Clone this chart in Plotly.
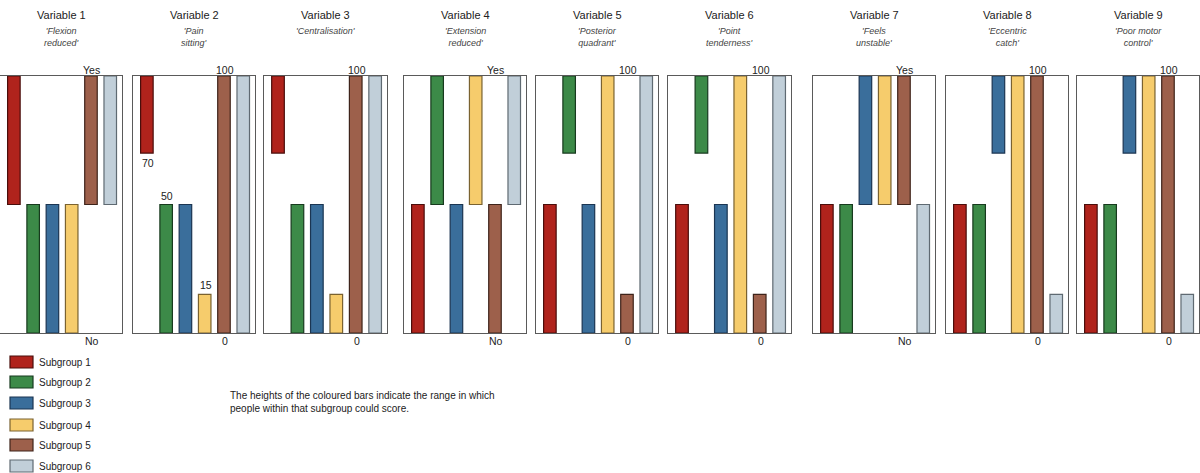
import plotly.graph_objects as go

W, H = 1200, 473

variables = ["Variable 1", "Variable 2", "Variable 3", "Variable 4", "Variable 5",
             "Variable 6", "Variable 7", "Variable 8", "Variable 9"]
descriptors = ["'Flexion<br>reduced'", "'Pain<br>sitting'", "'Centralisation'",
               "'Extension<br>reduced'", "'Posterior<br>quadrant'", "'Point<br>tenderness'",
               "'Feels<br>unstable'", "'Eccentric<br>catch'", "'Poor motor<br>control'"]
scale_type = ["binary", "continuous", "continuous", "binary", "continuous",
              "continuous", "binary", "continuous", "continuous"]
top_labels = {"binary": "Yes", "continuous": "100"}
bottom_labels = {"binary": "No", "continuous": "0"}

subgroups = ["Subgroup 1", "Subgroup 2", "Subgroup 3", "Subgroup 4", "Subgroup 5", "Subgroup 6"]
fill_colors = ["#B0231C", "#3C8A48", "#3A6E9B", "#F6CC6C", "#9D604B", "#C1CFD9"]
edge_colors = ["#4A0E0B", "#173A1E", "#1B3552", "#7A6230", "#3E231A", "#5F6A72"]

# Binary variables: which half each subgroup occupies
var1 = ["Yes", "No", "No", "No", "Yes", "Yes"]
var4 = ["No", "Yes", "No", "Yes", "No", "Yes"]
var7 = ["No", "No", "Yes", "Yes", "Yes", "No"]

# Continuous variables (0-100): range low/high per subgroup
var2_low = [70, 0, 0, 0, 0, 0]
var2_high = [100, 50, 50, 15, 100, 100]
var3_low = [70, 0, 0, 0, 0, 0]
var3_high = [100, 50, 50, 15, 100, 100]
var5_low = [0, 70, 0, 0, 0, 0]
var5_high = [50, 100, 50, 100, 15, 100]
var6_low = [0, 70, 0, 0, 0, 0]
var6_high = [50, 100, 50, 100, 15, 100]
var8_low = [0, 0, 70, 0, 0, 0]
var8_high = [50, 50, 100, 100, 100, 15]
var9_low = [0, 0, 70, 0, 0, 0]
var9_high = [50, 50, 100, 100, 100, 15]

# value labels shown in panel 2: (subgroup index, value, position)
panel2_labels = [(0, 70, "below"), (1, 50, "above"), (3, 15, "above")]

binary_map = {"Yes": (50, 100), "No": (0, 50)}


def ranges_binary(vals):
    return [binary_map[v][0] for v in vals], [binary_map[v][1] for v in vals]


ranges = [
    ranges_binary(var1),
    (var2_low, var2_high),
    (var3_low, var3_high),
    ranges_binary(var4),
    (var5_low, var5_high),
    (var6_low, var6_high),
    ranges_binary(var7),
    (var8_low, var8_high),
    (var9_low, var9_high),
]

# layout (pixels)
panel_edges = [(0, 122), (133, 255), (264, 387), (404, 526), (536, 658),
               (668, 791), (813, 935), (946, 1068), (1077, 1199)]
box_top, box_bottom = 76, 333


def py(y):
    return 1 - y / H


FONT = "Liberation Sans, Arial, sans-serif"
TXT = "#222222"
fig = go.Figure()
annotations = []
shapes = []

for i in range(9):
    n = "" if i == 0 else str(i + 1)
    low, high = ranges[i]
    fig.add_trace(go.Bar(
        x=list(range(6)),
        y=[h - l for l, h in zip(low, high)],
        base=low,
        width=0.65,
        marker=dict(color=fill_colors, line=dict(color=edge_colors, width=1.2)),
        xaxis="x" + n, yaxis="y" + n,
        showlegend=False, hoverinfo="skip",
    ))
    l, r = panel_edges[i]
    axis_common = dict(showticklabels=False, showgrid=False, zeroline=False,
                       showline=True, mirror=True, linecolor="#5a5a5a", linewidth=1.3,
                       ticks="", fixedrange=True)
    fig.layout["xaxis" + n] = dict(domain=[l / W, r / W], range=[-0.72, 5.61],
                                   anchor="y" + n, **axis_common)
    fig.layout["yaxis" + n] = dict(domain=[py(box_bottom), py(box_top)], range=[0, 100],
                                   anchor="x" + n, **axis_common)
    xd = "x" + n + " domain"
    annotations.append(dict(text=variables[i], xref=xd, x=0.5, yref="paper", y=py(15),
                            xanchor="center", yanchor="middle", showarrow=False,
                            font=dict(family=FONT, size=11, color=TXT)))
    annotations.append(dict(text="<i>" + descriptors[i] + "</i>", xref=xd, x=0.5,
                            yref="paper", y=py(24), xanchor="center", yanchor="top",
                            showarrow=False, align="center",
                            font=dict(family=FONT, size=9, color="#444444")))
    annotations.append(dict(text=top_labels[scale_type[i]], xref="x" + n, x=4.05,
                            yref="paper", y=py(70), xanchor="center", yanchor="middle",
                            showarrow=False, font=dict(family=FONT, size=10.5, color=TXT)))
    annotations.append(dict(text=bottom_labels[scale_type[i]], xref="x" + n, x=4.05,
                            yref="paper", y=py(341), xanchor="center", yanchor="middle",
                            showarrow=False, font=dict(family=FONT, size=10.5, color=TXT)))

for idx, val, pos in panel2_labels:
    annotations.append(dict(text=str(val), xref="x2", x=idx - 0.36, yref="y2", y=val,
                            xanchor="left", yanchor="top" if pos == "below" else "bottom",
                            yshift=-2 if pos == "below" else 1, showarrow=False,
                            font=dict(family=FONT, size=10.5, color=TXT)))

# legend
legend_rows = [362, 382, 403, 425, 445, 466]
for k, name in enumerate(subgroups):
    yc = legend_rows[k]
    shapes.append(dict(type="rect", xref="paper", yref="paper",
                       x0=10 / W, x1=33 / W, y0=py(yc + 6), y1=py(yc - 6),
                       fillcolor=fill_colors[k], line=dict(color=edge_colors[k], width=1.2)))
    annotations.append(dict(text=name, xref="paper", yref="paper", x=37 / W, y=py(yc),
                            xanchor="left", yanchor="middle", showarrow=False,
                            font=dict(family=FONT, size=10, color=TXT)))

annotations.append(dict(
    text="The heights of the coloured bars indicate the range in which<br>people within that subgroup could score.",
    xref="paper", yref="paper", x=228 / W, y=py(388), xanchor="left", yanchor="top",
    align="left", showarrow=False, font=dict(family=FONT, size=10, color=TXT)))

fig.update_layout(width=W, height=H, margin=dict(l=0, r=0, t=0, b=0),
                  paper_bgcolor="white", plot_bgcolor="white",
                  annotations=annotations, shapes=shapes, barmode="overlay",
                  bargap=0)

fig.write_html("out.html", config={"displayModeBar": False, "staticPlot": True},
               post_script="document.body.style.margin='0';document.body.style.overflow='hidden';")
